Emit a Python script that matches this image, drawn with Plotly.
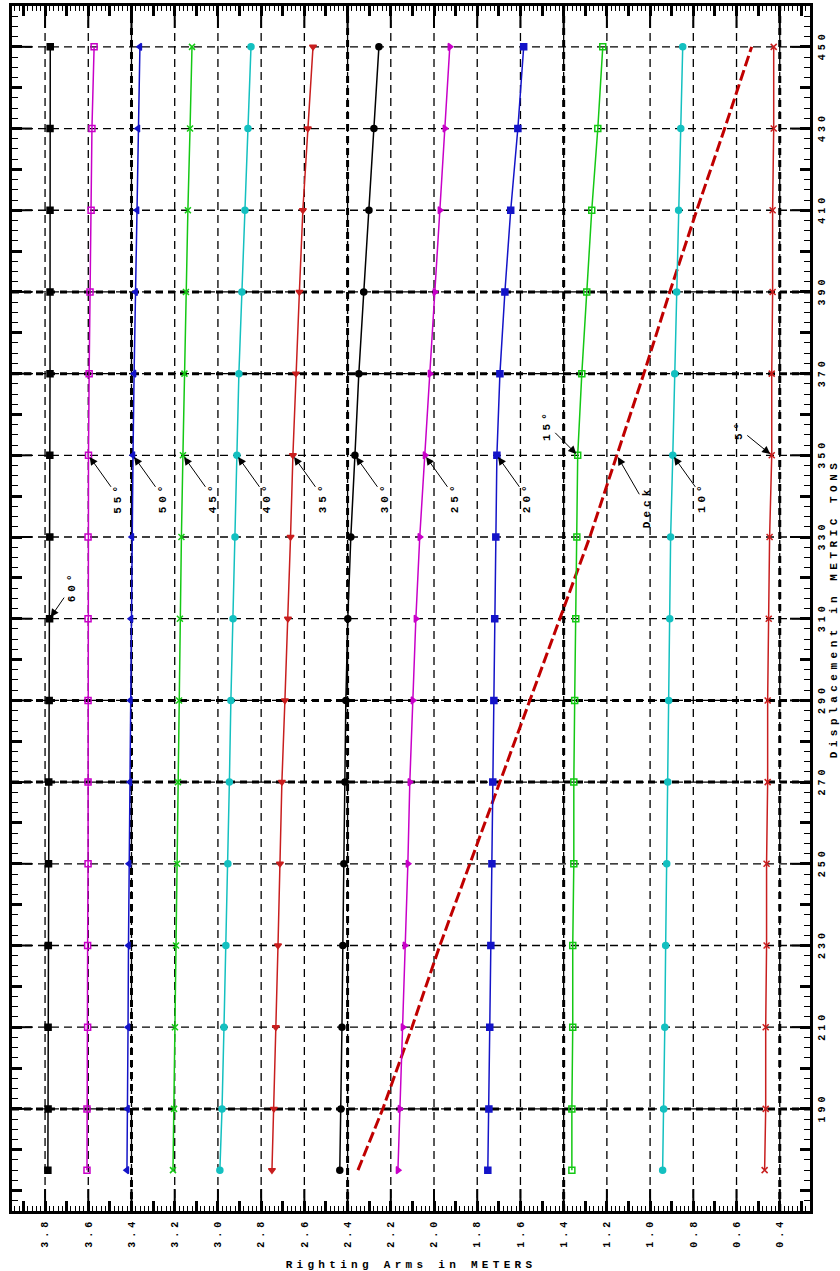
import plotly.graph_objects as go

# ---------------- data ----------------
displacement = [175, 190, 210, 230, 250, 270, 290, 310, 330, 350, 370, 390, 410, 430, 450]

ra_60 = [3.787, 3.786, 3.786, 3.785, 3.784, 3.783, 3.781, 3.779, 3.778, 3.778, 3.777, 3.777, 3.777, 3.777, 3.776]
ra_55 = [3.606, 3.606, 3.603, 3.603, 3.601, 3.601, 3.601, 3.601, 3.601, 3.599, 3.596, 3.592, 3.587, 3.583, 3.573]
ra_50 = [3.421, 3.418, 3.416, 3.414, 3.411, 3.407, 3.405, 3.402, 3.398, 3.393, 3.388, 3.381, 3.374, 3.370, 3.361]
ra_45 = [3.208, 3.203, 3.199, 3.194, 3.189, 3.185, 3.180, 3.176, 3.169, 3.162, 3.155, 3.148, 3.139, 3.129, 3.120]
ra_40 = [2.991, 2.981, 2.972, 2.963, 2.954, 2.947, 2.940, 2.930, 2.921, 2.912, 2.903, 2.889, 2.875, 2.861, 2.847]
ra_35 = [2.750, 2.741, 2.732, 2.722, 2.713, 2.704, 2.690, 2.676, 2.664, 2.653, 2.639, 2.623, 2.607, 2.584, 2.560]
ra_30 = [2.436, 2.431, 2.426, 2.422, 2.417, 2.412, 2.408, 2.399, 2.385, 2.366, 2.348, 2.325, 2.301, 2.278, 2.255]
ra_25 = [2.167, 2.158, 2.144, 2.135, 2.121, 2.112, 2.098, 2.084, 2.066, 2.042, 2.019, 1.996, 1.973, 1.950, 1.927]
ra_20 = [1.751, 1.746, 1.742, 1.737, 1.732, 1.728, 1.723, 1.719, 1.714, 1.709, 1.695, 1.672, 1.645, 1.612, 1.585]
ra_15 = [1.362, 1.362, 1.358, 1.358, 1.353, 1.353, 1.349, 1.344, 1.339, 1.335, 1.316, 1.293, 1.270, 1.242, 1.219]
ra_10 = [0.942, 0.937, 0.932, 0.928, 0.923, 0.918, 0.914, 0.909, 0.905, 0.895, 0.886, 0.877, 0.868, 0.858, 0.849]
ra_05 = [0.470, 0.465, 0.465, 0.461, 0.461, 0.456, 0.456, 0.451, 0.447, 0.437, 0.437, 0.433, 0.433, 0.428, 0.428]
deck_edge = [2.352, 2.237, 2.102, 1.973, 1.834, 1.695, 1.557, 1.418, 1.279, 1.154, 1.029, 0.909, 0.784, 0.655, 0.530]

x_tick_vals = [3.8, 3.6, 3.4, 3.2, 3.0, 2.8, 2.6, 2.4, 2.2, 2.0, 1.8, 1.6, 1.4, 1.2, 1.0, 0.8, 0.6, 0.4]
x_tick_text = ["3.8", "3.6", "3.4", "3.2", "3.0", "2.8", "2.6", "2.4", "2.2", "2.0",
               "1.8", "1.6", "1.4", "1.2", "1.0", "0.8", "0.6", "0.4"]
x_mid_vals = [3.9, 3.7, 3.5, 3.3, 3.1, 2.9, 2.7, 2.5, 2.3, 2.1, 1.9, 1.7, 1.5, 1.3, 1.1, 0.9, 0.7, 0.5, 0.3]
y_tick_vals = [190, 210, 230, 250, 270, 290, 310, 330, 350, 370, 390, 410, 430, 450]
y_tick_text = ["190", "210", "230", "250", "270", "290", "310", "330", "350", "370", "390", "410", "430", "450"]
y_mid_vals = [170, 180, 200, 220, 240, 260, 280, 300, 320, 340, 360, 380, 400, 420, 440, 460]
thick_x = [3.4, 2.4, 1.4, 0.4]
thick_y = [190, 270, 290, 370, 390]

curves = [
    ("60°", ra_60, "#000000", "square"),
    ("55°", ra_55, "#c800c8", "square-open"),
    ("50°", ra_50, "#1414c8", "triangle-left"),
    ("45°", ra_45, "#14c814", "x-thin"),
    ("40°", ra_40, "#14c0c0", "circle"),
    ("35°", ra_35, "#c81e1e", "triangle-down"),
    ("30°", ra_30, "#000000", "circle"),
    ("25°", ra_25, "#c800c8", "triangle-right"),
    ("20°", ra_20, "#1414c8", "square"),
    ("15°", ra_15, "#14c814", "square-open"),
    ("10°", ra_10, "#14c0c0", "circle"),
    ("5°", ra_05, "#c81e1e", "x-thin"),
]

FONT = "Liberation Mono"


def spaced(t, px):
    return '<span style="letter-spacing:%spx">%s</span>' % (px, t)


fig = go.Figure()

fig.add_trace(go.Scatter(x=deck_edge, y=displacement, mode="lines",
                         line=dict(color="#c00000", width=3, dash="11px,4px"),
                         hoverinfo="skip", showlegend=False))

for name, vals, col, sym in curves:
    fig.add_trace(go.Scatter(
        x=vals, y=displacement, mode="lines+markers", name=name,
        line=dict(color=col, width=1.5),
        marker=dict(symbol=sym, size=6, color=col, line=dict(color=col, width=1.5)),
        showlegend=False))

# ---------------- annotations ----------------
ann_specs = [
    # label, series, row index, ax, ay
    ("60°", ra_60, 7, 22, -32),
    ("55°", ra_55, 9, 30, 42),
    ("50°", ra_50, 9, 30, 42),
    ("45°", ra_45, 9, 30, 42),
    ("40°", ra_40, 9, 30, 42),
    ("35°", ra_35, 9, 30, 42),
    ("30°", ra_30, 9, 30, 42),
    ("25°", ra_25, 9, 30, 42),
    ("20°", ra_20, 9, 30, 42),
    ("15°", ra_15, 9, -30, -30),
    ("Deck", deck_edge, 9, 30, 52),
    ("10°", ra_10, 9, 30, 42),
    ("5°", ra_05, 9, -32, -26),
]
annotations = []
for lab, vals, i, ax, ay in ann_specs:
    annotations.append(dict(
        x=vals[i], y=displacement[i], xref="x", yref="y",
        text=spaced(lab, 4), textangle=-90, showarrow=True,
        ax=ax, ay=ay, arrowhead=2, arrowsize=1.6, arrowwidth=1,
        arrowcolor="#000000", standoff=2,
        font=dict(family=FONT, size=11, color="#000000", weight="bold")))

# ---------------- shapes: grid lines and long ticks ----------------
PW = 798.0
PH = 1205.0
shapes = []
for v in x_tick_vals:
    shapes.append(dict(type="line", xref="x", yref="paper", x0=v, x1=v, y0=0, y1=1,
                       line=dict(color="#000000", width=1.3, dash="8px,5px"), layer="below"))
for v in y_tick_vals:
    shapes.append(dict(type="line", xref="paper", yref="y", x0=0, x1=1, y0=v, y1=v,
                       line=dict(color="#000000", width=1.3, dash="8px,5px"), layer="below"))
for v in thick_x:
    shapes.append(dict(type="line", xref="x", yref="paper", x0=v, x1=v, y0=0, y1=1,
                       line=dict(color="#000000", width=3, dash="7px,5px"), layer="below"))
for v in thick_y:
    shapes.append(dict(type="line", xref="paper", yref="y", x0=0, x1=1, y0=v, y1=v,
                       line=dict(color="#000000", width=3, dash="7px,5px"), layer="below"))
for v in x_tick_vals:
    shapes.append(dict(type="line", xref="x", yref="paper", x0=v, x1=v, y0=0, y1=22 / PH,
                       line=dict(color="#000000", width=2)))
    shapes.append(dict(type="line", xref="x", yref="paper", x0=v, x1=v, y0=1, y1=1 - 22 / PH,
                       line=dict(color="#000000", width=2)))
for v in y_tick_vals:
    shapes.append(dict(type="line", xref="paper", yref="y", x0=1, x1=1 - 20 / PW, y0=v, y1=v,
                       line=dict(color="#000000", width=2)))
    shapes.append(dict(type="line", xref="paper", yref="y", x0=0, x1=20 / PW, y0=v, y1=v,
                       line=dict(color="#000000", width=2)))

fig.update_layout(
    width=840, height=1271,
    margin=dict(l=12, r=30, t=6, b=60),
    paper_bgcolor="white", plot_bgcolor="white",
    showlegend=False,
    annotations=annotations,
    shapes=shapes,
    font=dict(family=FONT, size=11, color="#000000", weight="bold"),
    xaxis=dict(
        range=[3.953, 0.26],
        tickmode="array",
        tickvals=x_tick_vals + x_mid_vals,
        ticktext=[spaced(t, 4) for t in x_tick_text] + [""] * len(x_mid_vals),
        tickangle=-90,
        ticks="inside", ticklen=10, tickwidth=3, tickcolor="#000000",
        showline=True, linewidth=2.5, linecolor="#000000", mirror="ticks",
        showgrid=False, zeroline=False,
        minor=dict(dtick=0.02, tick0=0, ticks="inside", ticklen=5, tickwidth=1,
                   tickcolor="#000000", showgrid=False),
        tickfont=dict(family=FONT, size=10, color="#000000", weight="bold"),
        title=dict(text=spaced("Righting Arms in METERS", 4.3), standoff=20,
                   font=dict(family=FONT, size=11, color="#000000", weight="bold")),
        automargin=False,
    ),
    yaxis=dict(
        range=[165, 460],
        side="right",
        tickmode="array",
        tickvals=y_tick_vals + y_mid_vals,
        ticktext=[spaced(t, 4) for t in y_tick_text] + [""] * len(y_mid_vals),
        tickangle=-90,
        ticks="inside", ticklen=10, tickwidth=3, tickcolor="#000000",
        showline=True, linewidth=2.5, linecolor="#000000", mirror="ticks",
        showgrid=False, zeroline=False,
        minor=dict(dtick=2.5, tick0=0, ticks="inside", ticklen=6, tickwidth=1,
                   tickcolor="#000000", showgrid=False),
        tickfont=dict(family=FONT, size=10, color="#000000", weight="bold"),
        title=dict(text=spaced("Displacement in METRIC TONS", 4.5), standoff=10,
                   font=dict(family=FONT, size=11, color="#000000", weight="bold")),
        automargin=False,
    ),
)

fig.write_html("out.html", config={"displayModeBar": False},
               post_script="document.body.style.margin='0';document.body.style.overflow='hidden';")
